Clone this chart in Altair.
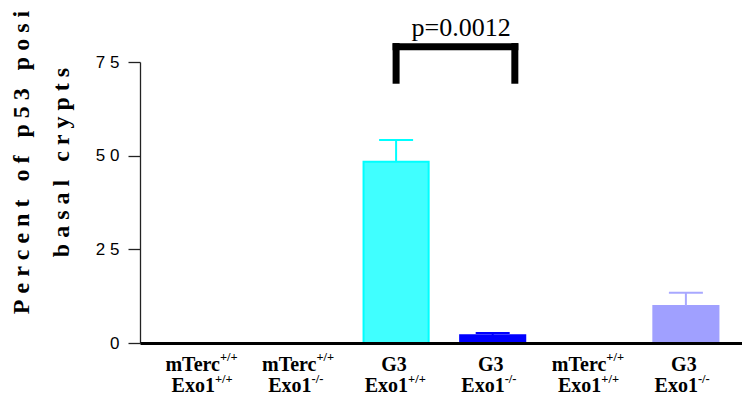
import altair as alt
import pandas as pd

# ---- data ----
cats = ["g1", "g2", "g3", "g4", "g5", "g6"]
line1_main = ["mTerc", "mTerc", "G3", "G3", "mTerc", "G3"]
line1_sup = ["+/+", "+/+", "", "", "+/+", ""]
line2_main = ["Exo1", "Exo1", "Exo1", "Exo1", "Exo1", "Exo1"]
line2_sup = ["+/+", "-/-", "+/+", "-/-", "+/+", "-/-"]
values = [0, 0, 48.4, 2.1, 0, 9.9]
errors = [0, 0, 5.8, 0.6, 0, 3.5]
fills = ["#000000", "#808080", "#40FFFF", "#0000FF", "#FFFFFF", "#A0A0FF"]
strokes = ["#000000", "#808080", "#00FFFF", "#0000FF", "#FFFFFF", "#A0A0FF"]
err_colors = ["#000000", "#808080", "#00FFFF", "#0000FF", "#FFFFFF", "#A8A8FF"]
y_ticks = [0, 25, 50, 75]
title_lines = ["Percent of p53 posi", "basal crypts"]
p_label = "p=0.0012"
bracket_left, bracket_right = "g3", "g4"
bracket_bar_y = 79.1
bracket_leg_lo = 69.2
bracket_leg_hi = 80.05
p_text_y = 82.0

NB = "\u00a0"


def spaced(s):
    return NB.join(NB if ch == " " else ch for ch in s)


df = pd.DataFrame({"cat": cats, "value": values, "err": errors,
                   "l1m": line1_main, "l1s": line1_sup,
                   "l2m": line2_main, "l2s": line2_sup})
br = pd.DataFrame({"cat": [bracket_left], "cat2": [bracket_right],
                   "bar_y": [bracket_bar_y], "leg_lo": [bracket_leg_lo],
                   "leg_hi": [bracket_leg_hi], "p_y": [p_text_y], "p": [p_label]})

SERIF = "Liberation Serif"
SANS = "Liberation Sans"

xscale = alt.Scale(domain=cats, paddingInner=0.326, paddingOuter=0.279, align=0.563)
xaxis = alt.Axis(labels=False, ticks=False, domainColor="black", domainWidth=3,
                 grid=False, title=None, zindex=1)
yscale = alt.Scale(domain=[0, 75], nice=False, zero=True)
yaxis = alt.Axis(values=y_ticks,
                 labelExpr="join(split(datum.label, ''), '\u00a0')",
                 title=[spaced(t) for t in title_lines],
                 titleFont=SERIF, titleFontSize=24, titleFontWeight="bold",
                 titleAngle=270, titleAlign="center", titleBaseline="alphabetic",
                 titleX=-111.5, titleY=100, titleLineHeight=40, titleColor="black",
                 labelFont=SANS, labelFontSize=17, labelColor="black", labelPadding=9,
                 tickSize=12, tickColor="#222", tickWidth=1.3,
                 domainColor="#222", domainWidth=1.3, grid=False)


def X(field="cat", **kw):
    return alt.X(f"{field}:N", scale=xscale, axis=xaxis, title=None, **kw)


def Y(field):
    return alt.Y(f"{field}:Q", scale=yscale, axis=yaxis)


base = alt.Chart(df)

bars = base.mark_bar(strokeWidth=2).encode(
    x=X(), y=Y("value"),
    fill=alt.Fill("cat:N", scale=alt.Scale(domain=cats, range=fills), legend=None),
    stroke=alt.Stroke("cat:N", scale=alt.Scale(domain=cats, range=strokes), legend=None),
)

err_color = alt.Color("cat:N", scale=alt.Scale(domain=cats, range=err_colors), legend=None)
err_base = base.transform_filter("datum.err > 0").transform_calculate(top="datum.value + datum.err")
err_rule = err_base.mark_rule(strokeWidth=2).encode(x=X(), y=Y("value"), y2="top:Q", color=err_color)
err_cap = err_base.mark_tick(size=34, thickness=2, opacity=1).encode(x=X(), y=Y("top"), color=err_color)

txt = dict(font=SERIF, fontWeight="bold", color="black", baseline="alphabetic")
lab_plus = base.transform_filter("datum.l1s != ''")
t1m = lab_plus.mark_text(align="right", dx=17, fontSize=20, **txt).encode(
    x=X(), y=alt.value(308.7), text="l1m:N")
t1s = lab_plus.mark_text(align="left", dx=17, fontSize=12.5, **txt).encode(
    x=X(), y=alt.value(298.7), text="l1s:N")
t1c = base.transform_filter("datum.l1s == ''").mark_text(align="center", dx=-2, fontSize=20, **txt).encode(
    x=X(), y=alt.value(308.7), text="l1m:N")
t2m = base.mark_text(align="right", dx=12, fontSize=20, **txt).encode(
    x=X(), y=alt.value(329.7), text="l2m:N")
t2s = base.mark_text(align="left", dx=12, fontSize=12.5, **txt).encode(
    x=X(), y=alt.value(321), text="l2s:N")

bchart = alt.Chart(br)
b_h = bchart.mark_rule(strokeWidth=7, strokeCap="square", color="black").encode(
    x=X("cat", bandPosition=0.5), x2=alt.X2("cat2", bandPosition=0.84), y=Y("bar_y"))
b_l = bchart.mark_rule(strokeWidth=7, strokeCap="butt", color="black").encode(
    x=X("cat", bandPosition=0.5), y=Y("leg_lo"), y2="leg_hi:Q")
b_r = bchart.mark_rule(strokeWidth=7, strokeCap="butt", color="black").encode(
    x=X("cat2", bandPosition=0.84), y=Y("leg_lo"), y2="leg_hi:Q")
p_t = bchart.mark_text(font=SERIF, fontSize=26, color="black", baseline="alphabetic",
                       align="center", dx=1).encode(
    x=X("cat2", bandPosition=0), y=Y("p_y"), text="p:N")

chart = alt.layer(bars, err_rule, err_cap, t1m, t1s, t1c, t2m, t2s, b_h, b_l, b_r, p_t).properties(
    width=602, height=281,
    autosize=alt.AutoSizeParams(type="none"),
    padding={"left": 140, "top": 62, "right": 0, "bottom": 53},
    background="white",
).configure_view(strokeWidth=0)

chart.save("out.html", embed_options={"renderer": "svg", "actions": False})
